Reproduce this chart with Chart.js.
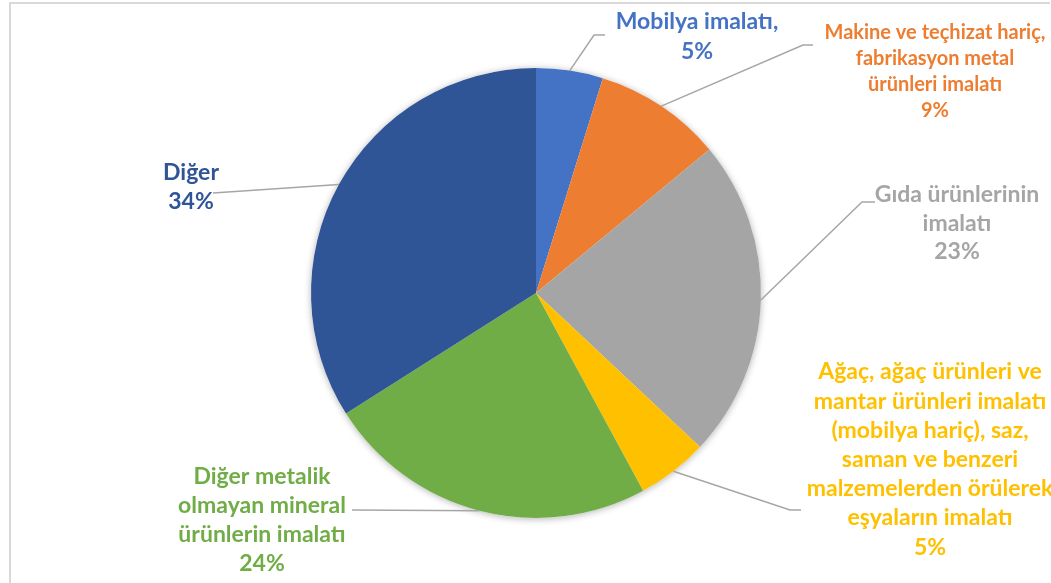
<!DOCTYPE html>
<html><head><meta charset="utf-8">
<script src="https://cdn.jsdelivr.net/npm/chart.js@4/dist/chart.umd.min.js"></script>
<style>
html,body{margin:0;padding:0;background:#fff;overflow:hidden;}
#wrap{position:relative;width:1051px;height:583px;overflow:hidden;}
#frame{position:absolute;left:9px;top:2px;width:1039px;height:600px;border-top:2px solid #d9d9d9;border-left:2px solid #d9d9d9;}
#c{position:absolute;left:0;top:0;}
</style></head><body>
<div id="wrap"><div id="frame"></div><canvas id="c" width="1051" height="583"></canvas></div>
<script>
// ---- data ----
const categories = [
  "Mobilya imalatı",
  "Makine ve teçhizat hariç, fabrikasyon metal ürünleri imalatı",
  "Gıda ürünlerinin imalatı",
  "Ağaç, ağaç ürünleri ve mantar ürünleri imalatı (mobilya hariç), saz, saman ve benzeri malzemelerden örülerek eşyaların imalatı",
  "Diğer metalik olmayan mineral ürünlerin imalatı",
  "Diğer"
];
const values = [4.8, 9.2, 23.0, 5.1, 23.9, 34.0];
const labelLines = [
  ["Mobilya imalatı,"],
  ["Makine ve teçhizat hariç,", "fabrikasyon metal", "ürünleri imalatı"],
  ["Gıda ürünlerinin", "imalatı"],
  ["Ağaç, ağaç ürünleri ve", "mantar ürünleri imalatı", "(mobilya hariç), saz,", "saman ve benzeri", "malzemelerden örülerek", "eşyaların imalatı"],
  ["Diğer metalik", "olmayan mineral", "ürünlerin imalatı"],
  ["Diğer"]
];
const sliceColors = ["#4472C4", "#ED7D31", "#A5A5A5", "#FFC000", "#70AD47", "#2F5597"];

// ---- layout (positions / styles) ----
const labelLayout = [
  {x: 697, y: 22, lh: 30, size: 23, elbow: [[594, 35], [605, 35]]},
  {x: 935, y: 33, lh: 26, size: 20, elbow: [[803, 45], [813, 45]]},
  {x: 957, y: 195, lh: 28.5, size: 23, elbow: [[862, 202], [875, 202]]},
  {x: 930, y: 372, lh: 29.2, size: 23, elbow: [[790, 510], [801, 510]]},
  {x: 262, y: 477, lh: 28.7, size: 23, elbow: [[352, 510]]},
  {x: 191, y: 173, lh: 29, size: 23, elbow: [[213, 193]]}
];
const FONT = "Lato, 'Noto Sans', sans-serif";

const shadowPlugin = {
  id: 'pieShadow',
  beforeDatasetsDraw(chart) {
    const arc = chart.getDatasetMeta(0).data[0];
    if (!arc) return;
    const ctx = chart.ctx;
    ctx.save();
    ctx.shadowColor = 'rgba(0,0,0,0.30)';
    ctx.shadowBlur = 7;
    ctx.shadowOffsetX = 0;
    ctx.shadowOffsetY = 1;
    ctx.fillStyle = '#ffffff';
    ctx.beginPath();
    ctx.arc(arc.x, arc.y, arc.outerRadius, 0, Math.PI * 2);
    ctx.fill();
    ctx.restore();
  }
};

const labelPlugin = {
  id: 'outLabels',
  afterDatasetsDraw(chart) {
    const ctx = chart.ctx;
    const meta = chart.getDatasetMeta(0);
    const data = chart.data.datasets[0].data;
    const total = data.reduce((a, b) => a + b, 0);
    meta.data.forEach((arc, i) => {
      const L = labelLayout[i];
      const mid = (arc.startAngle + arc.endAngle) / 2;
      const sx = arc.x + Math.cos(mid) * arc.outerRadius;
      const sy = arc.y + Math.sin(mid) * arc.outerRadius;
      ctx.save();
      ctx.strokeStyle = '#a6a6a6';
      ctx.lineWidth = 1.5;
      ctx.beginPath();
      ctx.moveTo(sx, sy);
      L.elbow.forEach(p => ctx.lineTo(p[0], p[1]));
      ctx.stroke();
      const lines = labelLines[i].concat([Math.round(data[i] / total * 100) + '%']);
      ctx.fillStyle = sliceColors[i];
      ctx.font = 'bold ' + L.size + 'px ' + FONT;
      ctx.textAlign = 'center';
      ctx.textBaseline = 'middle';
      lines.forEach((t, k) => ctx.fillText(t, L.x, L.y + k * L.lh));
      ctx.restore();
    });
  }
};

new Chart(document.getElementById('c'), {
  type: 'pie',
  data: {
    labels: categories,
    datasets: [{
      data: values,
      backgroundColor: sliceColors,
      borderWidth: 0,
      radius: 225
    }]
  },
  options: {
    responsive: false,
    animation: false,
    layout: {padding: {left: 21, right: 0, top: 3, bottom: 0}},
    plugins: {legend: {display: false}, tooltip: {enabled: false}}
  },
  plugins: [shadowPlugin, labelPlugin]
});
</script>
</body></html>
